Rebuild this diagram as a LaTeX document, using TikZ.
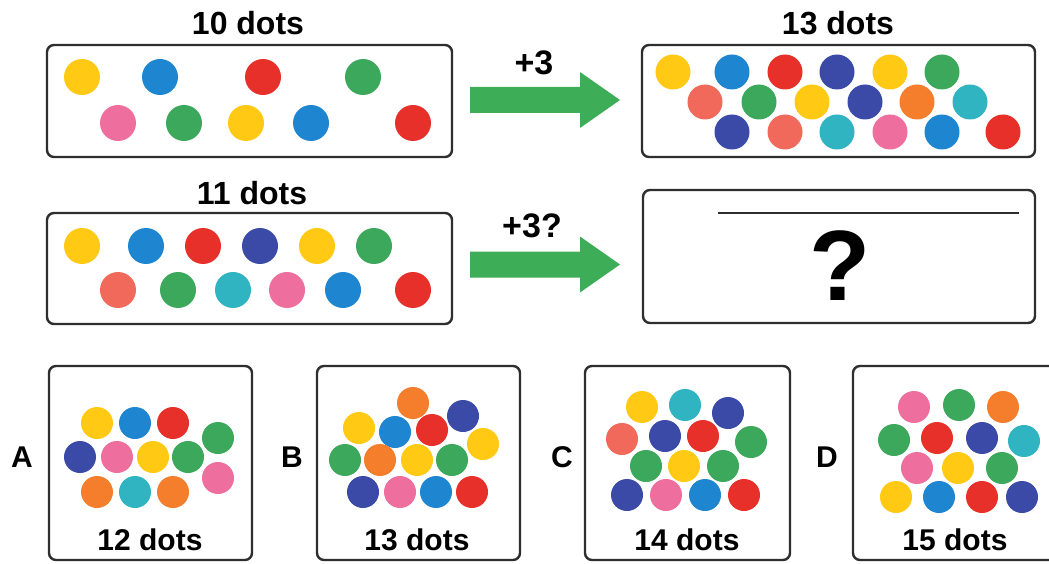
\documentclass[tikz,border=0pt]{standalone}
\usepackage{fontspec}
\setmainfont{Liberation Sans}
\usetikzlibrary{calc}
\definecolor{cY}{HTML}{FFC914}
\definecolor{cB}{HTML}{1E86D0}
\definecolor{cR}{HTML}{E8302A}
\definecolor{cG}{HTML}{3CA85C}
\definecolor{cP}{HTML}{EE6E9E}
\definecolor{cI}{HTML}{3A4AA6}
\definecolor{cS}{HTML}{F0695A}
\definecolor{cT}{HTML}{30B4C2}
\definecolor{cO}{HTML}{F47E2C}
\definecolor{cA}{HTML}{3EAD57}
\definecolor{cK}{HTML}{2E2E2E}
\newcommand\fatarrow[1]{\fill[cA] ($(#1s)+(0,-13)$) -- ($(#1e)+(-40,-13)$) -- ($(#1e)+(-40,-28)$) -- (#1e) -- ($(#1e)+(-40,28)$) -- ($(#1e)+(-40,13)$) -- ($(#1s)+(0,13)$) -- cycle;}
\begin{document}
\begin{tikzpicture}[x=1pt,y=-1pt,
  box/.style={draw=cK,line width=2.4pt,rounded corners=7pt,inner sep=0pt,fill=white},
  ttl/.style={font=\fontsize{32}{36}\selectfont\bfseries,inner sep=0pt,text=black},
  sml/.style={font=\fontsize{30}{34}\selectfont\bfseries,inner sep=0pt,text=black},
]
\useasboundingbox[fill=white] (0,0) rectangle (1049,564);

% boxes
\node[box,minimum width=405pt,minimum height=112pt] (b1) at (249.5,101) {};
\node[box,minimum width=393pt,minimum height=112pt] (b2) at (838.5,101) {};
\node[box,minimum width=405pt,minimum height=111pt] (b3) at (249.5,268.5) {};
\node[box,minimum width=392pt,minimum height=133pt] (b4) at (839,256.5) {};
\node[box,minimum width=203pt,minimum height=194pt] (bA) at (150.5,463) {};
\node[box,minimum width=203pt,minimum height=194pt] (bB) at (418.5,463) {};
\node[box,minimum width=205pt,minimum height=194pt] (bC) at (687.5,463) {};
\node[box,minimum width=203pt,minimum height=194pt] (bD) at (954.5,463) {};

% titles
\node[ttl] (t1) at (248,23) {10 dots};
\node[ttl] (t2) at (838,23) {13 dots};
\node[ttl] (t3) at (252,193) {11 dots};

% arrows
\coordinate (a1s) at (470,100); \coordinate (a1e) at (620,100);
\coordinate (a2s) at (470,264.5); \coordinate (a2e) at (620,264.5);
\fatarrow{a1}
\fatarrow{a2}
\node[ttl,font=\fontsize{34}{38}\selectfont\bfseries] (p1) at (534,63) {+3};
\node[ttl,font=\fontsize{34}{38}\selectfont\bfseries] (p2) at (532,226) {+3?};

% box 4 content
\coordinate (l1) at (718,213); \coordinate (l2) at (1019,213);
\draw[cK,line width=2.2pt] (l1) -- (l2);
\node[inner sep=0pt,font=\fontsize{100}{110}\selectfont\bfseries] (q) at (840,266) {?};

% dots box 1
\foreach \x/\y/\c in {82/77/cY,160/77/cB,263/77/cR,363/77/cG,
  118/123/cP,184/123/cG,246/123/cY,311/123/cB,413/123/cR}
  \fill[\c] (\x,\y) circle[radius=18pt];
% dots box 2
\foreach \x/\y/\c in {673/72/cY,732/72/cB,785/72/cR,837/72/cI,890/72/cY,942/72/cG,
  705/102/cS,759/102/cG,812/102/cY,865/102/cI,917/102/cO,970/102/cT,
  732/132/cI,785/132/cS,837/132/cT,890/132/cP,942/132/cB,1003/132/cR}
  \fill[\c] (\x,\y) circle[radius=17.5pt];
% dots box 3
\foreach \x/\y/\c in {82/246/cY,146/246/cB,203/246/cR,260/246/cI,317/246/cY,374/246/cG,
  118/290/cS,178/290/cG,233/290/cT,287/290/cP,343/290/cB,413/290/cR}
  \fill[\c] (\x,\y) circle[radius=18pt];

% option A
\foreach \x/\y/\c in {97/423/cY,135/423/cB,173/423/cR,218/438/cG,
  80/457/cI,117/457/cP,153/457/cY,188/457/cG,218/478/cP,
  97/492/cO,135/492/cT,173/492/cO}
  \fill[\c] (\x,\y) circle[radius=16pt];
% option B
\foreach \x/\y/\c in {413/403/cO,463/416/cI,359/428/cY,395/432/cB,432/430/cR,483/444/cY,
  345/460/cG,380/460/cO,417/460/cY,452/460/cG,
  363/492/cI,400/492/cP,436/492/cB,472/492/cR}
  \fill[\c] (\x,\y) circle[radius=16pt];
% option C
\foreach \x/\y/\c in {642/407/cY,685/405/cT,728/413/cI,
  622/439/cS,665/436/cI,703/436/cR,751/442/cG,
  646/466/cG,684/466/cY,723/466/cG,
  627/495/cI,666/495/cP,705/495/cB,744/495/cR}
  \fill[\c] (\x,\y) circle[radius=16pt];
% option D
\foreach \x/\y/\c in {914/407/cP,959/405/cG,1003/407/cO,
  894/440/cG,937/438/cR,982/438/cI,1024/441/cT,
  917/468/cP,958/468/cY,1002/468/cG,
  896/497/cY,939/497/cB,982/497/cR,1022/497/cI}
  \fill[\c] (\x,\y) circle[radius=16pt];

% option labels
\node[sml] (lA) at (22,457) {A};
\node[sml] (lB) at (292,457) {B};
\node[sml] (lC) at (562,457) {C};
\node[sml] (lD) at (827,457) {D};
\node[sml] (nA) at (150,540) {12 dots};
\node[sml] (nB) at (417,540) {13 dots};
\node[sml] (nC) at (687,540) {14 dots};
\node[sml] (nD) at (955,540) {15 dots};
\end{tikzpicture}
\end{document}
